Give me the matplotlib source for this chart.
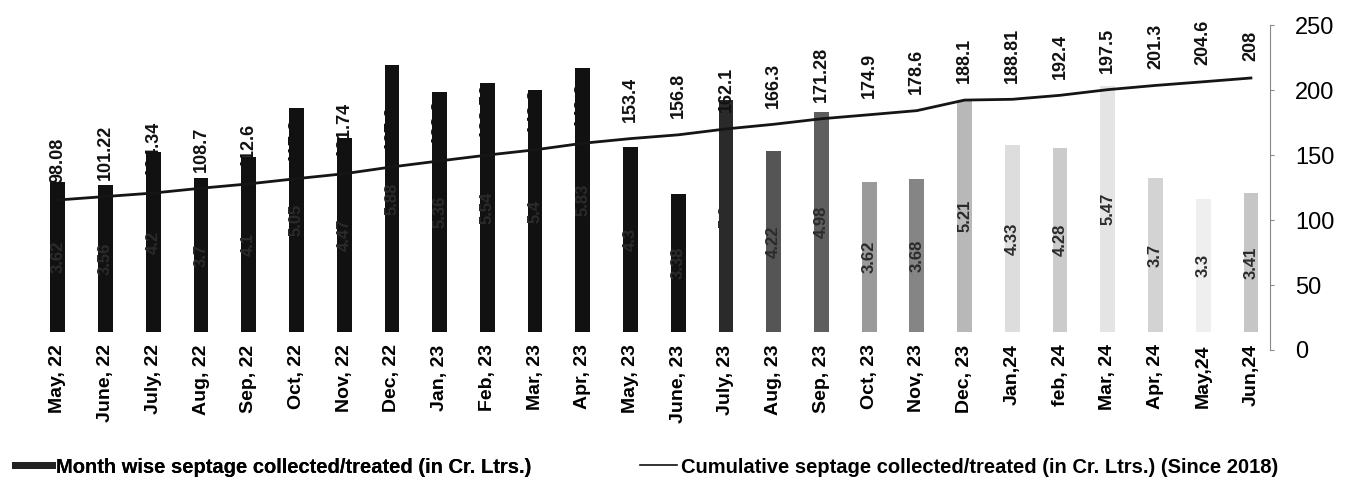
import matplotlib
matplotlib.use("Agg")
import matplotlib.pyplot as plt
from matplotlib.lines import Line2D
import numpy as np

plt.rcParams['font.family'] = ['Liberation Sans', 'DejaVu Sans']

months = ["May, 22", "June, 22", "July, 22", "Aug, 22", "Sep, 22", "Oct, 22",
          "Nov, 22", "Dec, 22", "Jan, 23", "Feb, 23", "Mar, 23", "Apr, 23",
          "May, 23", "June, 23", "July, 23", "Aug, 23", "Sep, 23", "Oct, 23",
          "Nov, 23", "Dec, 23", "Jan,24", "feb, 24", "Mar, 24", "Apr, 24",
          "May,24", "Jun,24"]
monthly = [3.62, 3.56, 4.2, 3.7, 4.1, 5.05, 4.47, 5.88, 5.36, 5.54, 5.4, 5.83,
           4.3, 3.38, 5.2, 4.22, 4.98, 3.62, 3.68, 5.21, 4.33, 4.28, 5.47, 3.7,
           3.3, 3.41]
cumulative = [98.08, 101.22, 104.34, 108.7, 112.6, 117.3, 121.74, 127.9, 133.3,
              138.56, 143.3, 149.2, 153.4, 156.8, 162.1, 166.3, 171.28, 174.9,
              178.6, 188.1, 188.81, 192.4, 197.5, 201.3, 204.6, 208]
right_ticks = [0, 50, 100, 150, 200, 250]

bar_colors = ['#111111'] * 14 + ['#2a2a2a', '#555555', '#5e5e5e', '#9a9a9a',
              '#858585', '#b8b8b8', '#dddddd', '#cbcbcb', '#e4e4e4', '#d3d3d3',
              '#efefef', '#c6c6c6']

W, H = 1348, 498
fig = plt.figure(figsize=(W / 100, H / 100), dpi=100)

left_px, right_px = 34, 1270
top_px, bot_px = 25, 350
bar_bot_px = 332
l = left_px / W
w = (right_px - left_px) / W
b = 1 - bot_px / H
h = (bot_px - top_px) / H
bb = 1 - bar_bot_px / H
bh = (bar_bot_px - top_px) / H

x = np.arange(len(months))
xlim = (-0.5, 25.4)

# right visible axis
ax = fig.add_axes([l, b, w, h])
ax.set_xlim(*xlim)
ax.set_ylim(0, 250)
ax.set_yticks(right_ticks)
ax.yaxis.tick_right()
ax.tick_params(axis='y', labelsize=17, length=3, color='#888888', pad=15)
for s in ['top', 'left', 'bottom']:
    ax.spines[s].set_visible(False)
ax.spines['right'].set_linestyle((0, (1, 1)))
ax.spines['right'].set_color('#888888')
ax.spines['right'].set_linewidth(0.8)
ax.set_xticks(x)
ax.set_xticklabels(months, rotation=90, fontsize=14, fontweight='bold')
ax.tick_params(axis='x', length=0, pad=-4)

# bar axis
axb = fig.add_axes([l, bb, w, bh])
axb.set_xlim(*xlim)
axb.set_ylim(0.72, 0.72 + (bar_bot_px - top_px) / 51.7)
axb.axis('off')
axb.bar(x, monthly, width=0.31, color=bar_colors)
for xi, v in zip(x, monthly):
    ymid = (0.72 + v) / 2
    axb.text(xi, ymid, f"{v:g}", rotation=90, ha='center', va='center',
             fontsize=12, fontweight='bold', color='#2b2b2b')

# line axis
axl = fig.add_axes([l, b, w, h])
axl.set_xlim(*xlim)
px_per = (200 - 78) / (208 - 98.08)
axl.set_ylim(98.08 - (bot_px - 200) / px_per, 208 + (78 - top_px) / px_per)
axl.axis('off')
axl.plot(x, cumulative, color='#151515', lw=2)
for xi, v in zip(x, cumulative):
    axl.annotate(f"{v:g}", (xi, v), xytext=(0, 12), textcoords='offset points',
                 rotation=90, ha='center', va='bottom', fontsize=13,
                 fontweight='bold', color='#111111')

prop = {'weight': 'bold', 'size': 14.5}
leg1 = fig.legend([Line2D([0], [0], color='#222222', lw=5)],
                  ["Month wise septage collected/treated (in Cr. Ltrs.)"],
                  loc='center left', bbox_to_anchor=(-0.002, 1 - 467 / H),
                  frameon=False, handlelength=1.8, handletextpad=0.2, prop=prop)
leg2 = fig.legend([Line2D([0], [0], color='#111111', lw=1.2)],
                  ["Cumulative septage collected/treated (in Cr. Ltrs.) (Since 2018)"],
                  loc='center right', bbox_to_anchor=(1296 / W, 1 - 467 / H),
                  frameon=False, handlelength=1.8, handletextpad=0.2, prop=prop)
fig.add_artist(leg1)

fig.savefig('out.png', dpi=100)
